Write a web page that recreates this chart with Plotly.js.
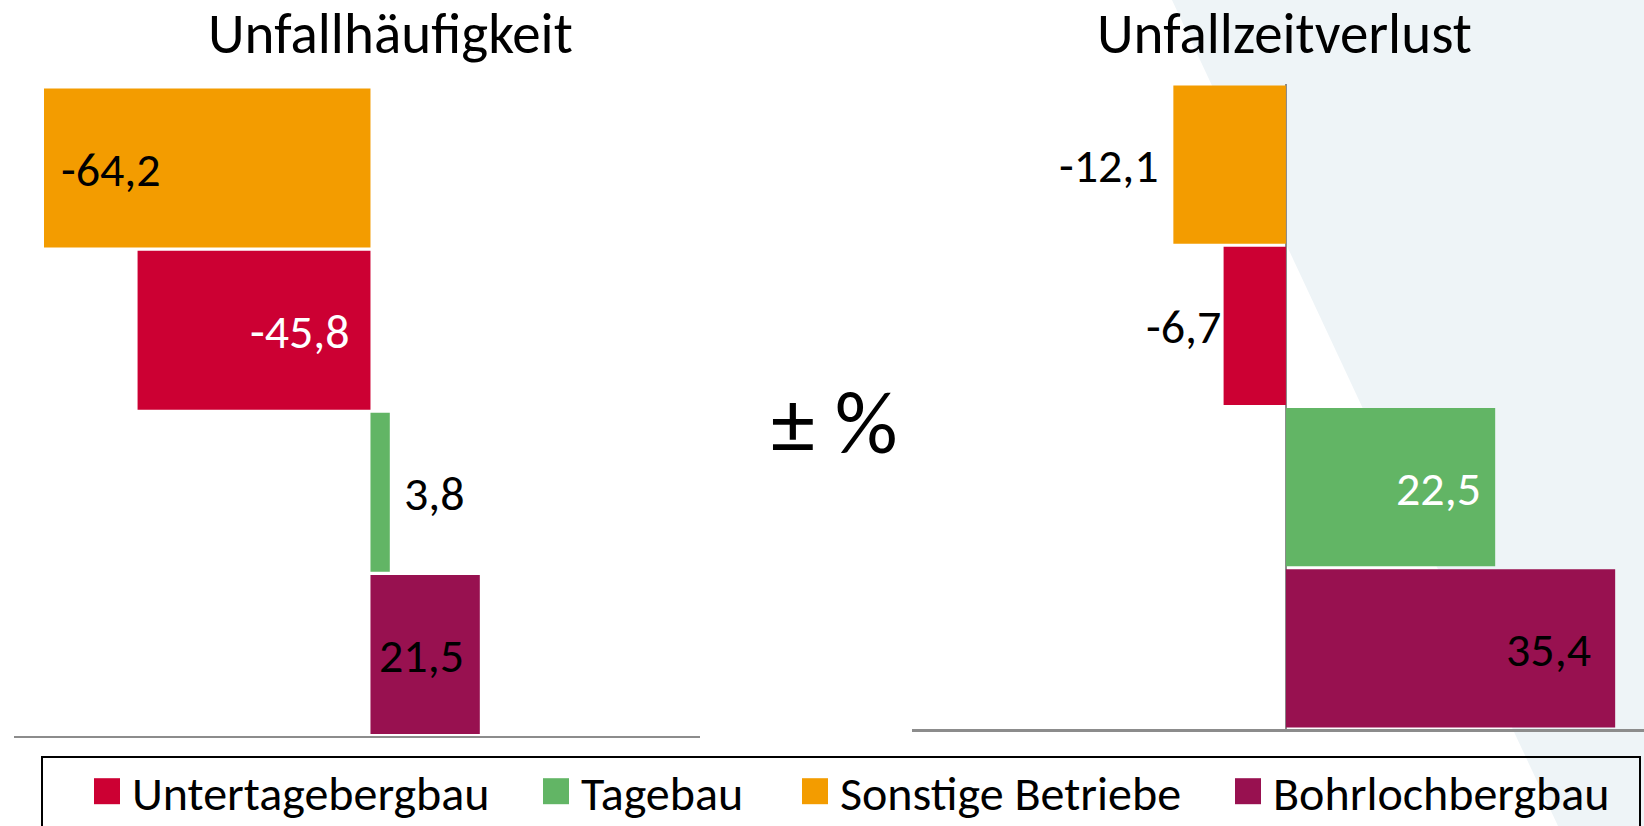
<!DOCTYPE html>
<html>
<head>
<meta charset="utf-8">
<script src="https://cdn.plot.ly/plotly-3.0.1.min.js"></script>
<style>
  html, body { margin: 0; padding: 0; background: #ffffff; }
  #chart { width: 1644px; height: 826px; }
</style>
</head>
<body>
<div id="chart"></div>
<script>
// ---------- data ----------
const categories = ['Sonstige Betriebe', 'Untertagebergbau', 'Tagebau', 'Bohrlochbergbau'];
const unfallhaeufigkeit = [-64.2, -45.8, 3.8, 21.5];
const unfallzeitverlust = [-12.1, -6.7, 22.5, 35.4];
const legendOrder = ['Untertagebergbau', 'Tagebau', 'Sonstige Betriebe', 'Bohrlochbergbau'];
const chartTitles = ['Unfallhäufigkeit', 'Unfallzeitverlust'];
const centerLabel = '± %';

// ---------- styles ----------
const FONT = 'Carlito, Lato, "Open Sans", sans-serif';
const colors = {
  'Untertagebergbau': '#CC0033',
  'Tagebau': '#62B565',
  'Sonstige Betriebe': '#F39C00',
  'Bohrlochbergbau': '#981150'
};
// label placement per category (order of `categories`)
const leftLabelStyle = [
  {anchor: 'left', at: 'end', shift: 15, color: '#000000'},
  {anchor: 'right', at: 'zero', shift: -18, color: '#ffffff'},
  {anchor: 'left', at: 'end', shift: 12, color: '#000000'},
  {anchor: 'center', at: 'mid', shift: -4, color: '#000000'}
];
const rightLabelStyle = [
  {anchor: 'right', at: 'end', shift: -12, color: '#000000'},
  {anchor: 'right', at: 'end', shift: -1, color: '#000000'},
  {anchor: 'right', at: 'end', shift: -12, color: '#ffffff'},
  {anchor: 'right', at: 'end', shift: -22, color: '#000000'}
];
const legendX = [82, 531, 790, 1223];

const W = 1644, H = 826;
const fmt = v => String(v).replace('.', ',');

const traces = [];
legendOrder.forEach((name, i) => {
  const idx = categories.indexOf(name);
  const lg = i === 0 ? 'legend' : 'legend' + (i + 1);
  traces.push({
    type: 'bar', orientation: 'h', name: name,
    x: [unfallhaeufigkeit[idx]], y: [name],
    xaxis: 'x', yaxis: 'y',
    marker: {color: colors[name], line: {width: 0}},
    legendgroup: name, legend: lg, showlegend: true,
    hoverinfo: 'x+name'
  });
  traces.push({
    type: 'bar', orientation: 'h', name: name,
    x: [unfallzeitverlust[idx]], y: [name],
    xaxis: 'x2', yaxis: 'y2',
    marker: {color: colors[name], line: {width: 0}},
    legendgroup: name, legend: lg, showlegend: false,
    hoverinfo: 'x+name'
  });
});

function labelAnn(values, styles, xref, yref) {
  return values.map((v, i) => {
    const s = styles[i];
    let x = v;
    if (s.at === 'zero') x = 0;
    if (s.at === 'mid') x = v / 2;
    return {
      xref: xref, yref: yref, x: x, y: categories[i],
      text: fmt(v), showarrow: false,
      xanchor: s.anchor, yanchor: 'middle', xshift: s.shift, yshift: -1,
      font: {family: FONT, size: 48, color: s.color}
    };
  });
}

const annotations = [
  {xref: 'paper', yref: 'paper', x: 390 / W, y: 1 - 34 / H, text: chartTitles[0],
   showarrow: false, xanchor: 'center', yanchor: 'middle',
   font: {family: FONT, size: 57, color: '#000000'}},
  {xref: 'paper', yref: 'paper', x: 1284 / W, y: 1 - 34 / H, text: chartTitles[1],
   showarrow: false, xanchor: 'center', yanchor: 'middle',
   font: {family: FONT, size: 57, color: '#000000'}},
  {xref: 'paper', yref: 'paper', x: 834 / W, y: 1 - 423 / H, text: centerLabel,
   showarrow: false, xanchor: 'center', yanchor: 'middle',
   font: {family: FONT, size: 88, color: '#000000'}}
].concat(labelAnn(unfallhaeufigkeit, leftLabelStyle, 'x', 'y'))
 .concat(labelAnn(unfallzeitverlust, rightLabelStyle, 'x2', 'y2'));

const legendBase = {
  orientation: 'h', xanchor: 'left', yanchor: 'middle', y: 1 - 791.5 / H,
  bgcolor: 'rgba(0,0,0,0)', borderwidth: 0, itemwidth: 40,
  font: {family: FONT, size: 48, color: '#000000'}, itemclick: false, itemdoubleclick: false
};

const layout = {
  width: W, height: H,
  margin: {l: 0, r: 0, t: 0, b: 0, pad: 0, autoexpand: false},
  paper_bgcolor: '#ffffff', plot_bgcolor: 'rgba(0,0,0,0)',
  barmode: 'overlay', bargap: 0.02,
  showlegend: true,
  font: {family: FONT},
  xaxis: {domain: [14 / W, 700 / W], range: [-70.1, 64.8], anchor: 'y',
    showline: true, linecolor: '#8C8C8C', linewidth: 2.5,
    showgrid: false, zeroline: false, showticklabels: false, ticks: '', fixedrange: true},
  yaxis: {domain: [(H - 735.5) / H, (H - 87) / H], anchor: 'x', type: 'category',
    categoryorder: 'array', categoryarray: categories, autorange: 'reversed',
    showline: false, showgrid: false, zeroline: false, showticklabels: false, ticks: '', fixedrange: true},
  xaxis2: {domain: [912 / W, 1], range: [-40.2, 38.5], anchor: 'y2',
    showline: true, linecolor: '#8C8C8C', linewidth: 2.5,
    showgrid: false, zeroline: true, zerolinecolor: '#8C8C8C', zerolinewidth: 2.5,
    showticklabels: false, ticks: '', fixedrange: true},
  yaxis2: {domain: [(H - 729) / H, (H - 84) / H], anchor: 'x2', type: 'category',
    categoryorder: 'array', categoryarray: categories, autorange: 'reversed',
    showline: false, showgrid: false, zeroline: false, showticklabels: false, ticks: '', fixedrange: true},
  shapes: [
    {type: 'path', xref: 'paper', yref: 'paper', layer: 'below',
     path: `M ${1172 / W},1 L 1,1 L 1,0 L ${1558 / W},0 Z`,
     fillcolor: '#EEF4F7', line: {width: 0}},
    {type: 'rect', xref: 'paper', yref: 'paper', layer: 'above',
     x0: 42 / W, x1: 1640 / W, y0: -0.02, y1: (H - 757) / H,
     fillcolor: 'rgba(0,0,0,0)', line: {color: '#000000', width: 2}}
  ],
  annotations: annotations
};
legendX.forEach((px, i) => {
  const key = i === 0 ? 'legend' : 'legend' + (i + 1);
  layout[key] = Object.assign({}, legendBase, {x: px / W});
});

Plotly.newPlot('chart', traces, layout, {displayModeBar: false, staticPlot: true}).then(gd => {
  // enlarge legend swatches to match the reference size
  gd.querySelectorAll('g.legendpoints path').forEach(p => {
    p.setAttribute('d', 'M13,13H-13V-13H13Z');
  });
});
</script>
</body>
</html>
